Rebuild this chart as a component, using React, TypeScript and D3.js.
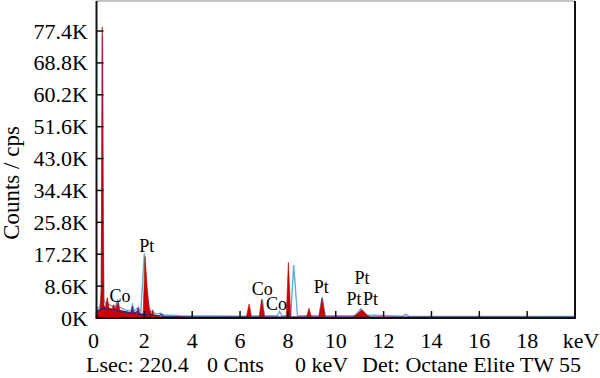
import React from "react";
import * as d3 from "d3";

// Spectrum data: [keV, K counts]
const redSpectrum: [number, number][] = [
  [0, 0], [0.02, 1.8], [0.15, 2.3], [0.2, 8], [0.24, 78.5], [0.28, 25], [0.31, 3.5],
  [0.38, 2.8], [0.45, 5.5], [0.52, 2.7], [0.65, 2.5], [0.72, 3.6], [0.78, 2.4],
  [0.9, 4.2], [0.98, 2.1], [1.2, 1.8], [1.45, 1.5], [1.5, 3.2], [1.55, 1.4],
  [1.68, 1.3], [1.74, 2.8], [1.8, 1.2], [1.95, 1.1], [2.03, 16.6], [2.12, 8],
  [2.2, 2.5], [2.3, 1.0], [2.35, 2.2], [2.4, 0.7], [2.6, 0.5], [3.0, 0.4],
  [4.0, 0.3], [6.26, 0.3], [6.38, 3.8], [6.48, 0.3], [6.8, 0.3], [6.9, 5.0],
  [7.02, 0.3], [7.93, 0.3], [8.02, 15.0], [8.12, 0.3], [8.78, 0.3], [8.88, 2.6],
  [8.98, 0.3], [9.3, 0.3], [9.43, 5.3], [9.56, 0.3], [10.7, 0.3], [10.92, 1.2],
  [11.08, 2.2], [11.3, 0.8], [11.45, 0.3], [20, 0.2], [20, 0],
];

const lightBlueLine: [number, number][] = [
  [0, 0.5], [0.05, 2.6], [0.15, 3.1], [0.2, 6], [0.25, 76], [0.3, 5], [0.4, 3.6],
  [0.5, 3.9], [0.6, 3.3], [0.8, 3.1], [0.88, 5.0], [0.95, 3.0], [1.2, 2.2],
  [1.45, 1.9], [1.5, 3.6], [1.6, 1.8], [1.74, 2.9], [1.85, 1.5], [2.0, 17.4],
  [2.1, 6], [2.25, 1.8], [2.35, 1.8], [2.5, 1.0], [2.68, 1.3], [2.8, 0.8],
  [3.5, 0.6], [6.3, 0.5], [6.85, 0.6], [6.93, 5.2], [7.02, 0.6], [7.55, 0.6],
  [7.65, 1.8], [7.75, 0.6], [8.12, 0.6], [8.24, 14.3], [8.4, 0.6], [9.3, 0.6],
  [9.43, 5.6], [9.56, 0.6], [10.8, 0.6], [11.05, 2.5], [11.3, 0.8], [12.8, 0.5],
  [12.93, 1.0], [13.05, 0.5], [20, 0.4],
];

const darkBlueLine: [number, number][] = [
  [0, 0.3], [0.05, 1.8], [0.15, 2.4], [0.3, 2.6], [0.6, 2.3], [1.0, 1.8],
  [1.45, 1.3], [1.5, 2.6], [1.55, 1.2], [1.74, 1.8], [1.8, 1.0], [2.0, 0.8],
  [2.3, 0.9], [2.6, 0.5], [2.7, 1.0], [2.8, 0.4], [4, 0.25], [20, 0.2],
];

const peakLabels: { text: string; keV: number; counts: number }[] = [
  { text: "Co", keV: 0.98, counts: 4.3 },
  { text: "Pt", keV: 2.1, counts: 17.8 },
  { text: "Co", keV: 6.93, counts: 6.3 },
  { text: "Co", keV: 7.52, counts: 2.1 },
  { text: "Pt", keV: 9.39, counts: 6.7 },
  { text: "Pt", keV: 11.1, counts: 9.2 },
  { text: "Pt", keV: 10.76, counts: 3.5 },
  { text: "Pt", keV: 11.45, counts: 3.5 },
];

const yTicks = [0, 8.6, 17.2, 25.8, 34.4, 43.0, 51.6, 60.2, 68.8, 77.4];
const xTicks = [0, 2, 4, 6, 8, 10, 12, 14, 16, 18];
const footer = ["Lsec: 220.4", "0 Cnts", "0 keV", "Det: Octane Elite TW 55"];
const footerX = [86, 207, 295, 362];

const FONT = '"Liberation Serif", "Times New Roman", Times, serif';

export default function App() {
  const W = 600, H = 378;
  const left = 96.5, right = 575, top = 1, bottom = 318;
  const x = d3.scaleLinear().domain([0, 20]).range([left, right]);
  const y = d3.scaleLinear().domain([0, 85.5]).range([bottom, top]);

  const area = d3.area<[number, number]>()
    .x((d) => x(d[0])).y0(bottom).y1((d) => y(d[1]));
  const line = d3.line<[number, number]>()
    .x((d) => x(d[0])).y((d) => y(d[1]));

  return (
    <svg width={W} height={H} style={{ position: "absolute", left: 0, top: 0, fontFamily: FONT }}>
      <rect x={0} y={0} width={W} height={H} fill="#fff" />
      <path d={line(lightBlueLine) || ""} fill="none" stroke="#62aedb" strokeWidth={1.4} />
      <path d={area(redSpectrum) || ""} fill="#cc0000" stroke="#b80000" strokeWidth={0.6} />
      <path d={line(darkBlueLine) || ""} fill="none" stroke="#1e2a8a" strokeWidth={1.2} />

      {/* frame */}
      <line x1={left} x2={right} y1={top} y2={top} stroke="#888" strokeWidth={1} />
      <line x1={right} x2={right} y1={top} y2={bottom} stroke="#111" strokeWidth={2} />
      <line x1={left} x2={left} y1={top} y2={bottom + 1} stroke="#111" strokeWidth={2} />
      <line x1={left} x2={right + 1} y1={bottom} y2={bottom} stroke="#111" strokeWidth={2} />

      {yTicks.map((t) => (
        <g key={"y" + t}>
          <line x1={left} x2={left + 7} y1={y(t)} y2={y(t)} stroke="#111" strokeWidth={1.5} />
          <text x={88} y={y(t)} textAnchor="end" dominantBaseline="central" fontSize={22}>
            {t.toFixed(t === 0 ? 0 : 1) + "K"}
          </text>
        </g>
      ))}
      {xTicks.map((t) => (
        <g key={"x" + t}>
          <line x1={x(t)} x2={x(t)} y1={bottom} y2={bottom - 7} stroke="#111" strokeWidth={1.5} />
          <text x={t === 0 ? x(t) - 3 : x(t)} y={348} textAnchor="middle" fontSize={22}>{t}</text>
        </g>
      ))}
      <text x={581} y={348} textAnchor="middle" fontSize={22}>keV</text>

      <text transform="translate(11,183) rotate(-90)" textAnchor="middle"
        dominantBaseline="central" fontSize={23}>Counts / cps</text>

      {peakLabels.map((p, i) => (
        <text key={"p" + i} x={x(p.keV)} y={y(p.counts)} textAnchor="middle" fontSize={18}>
          {p.text}
        </text>
      ))}

      {footer.map((f, i) => (
        <text key={"f" + i} x={footerX[i]} y={372} fontSize={22}>{f}</text>
      ))}
    </svg>
  );
}
